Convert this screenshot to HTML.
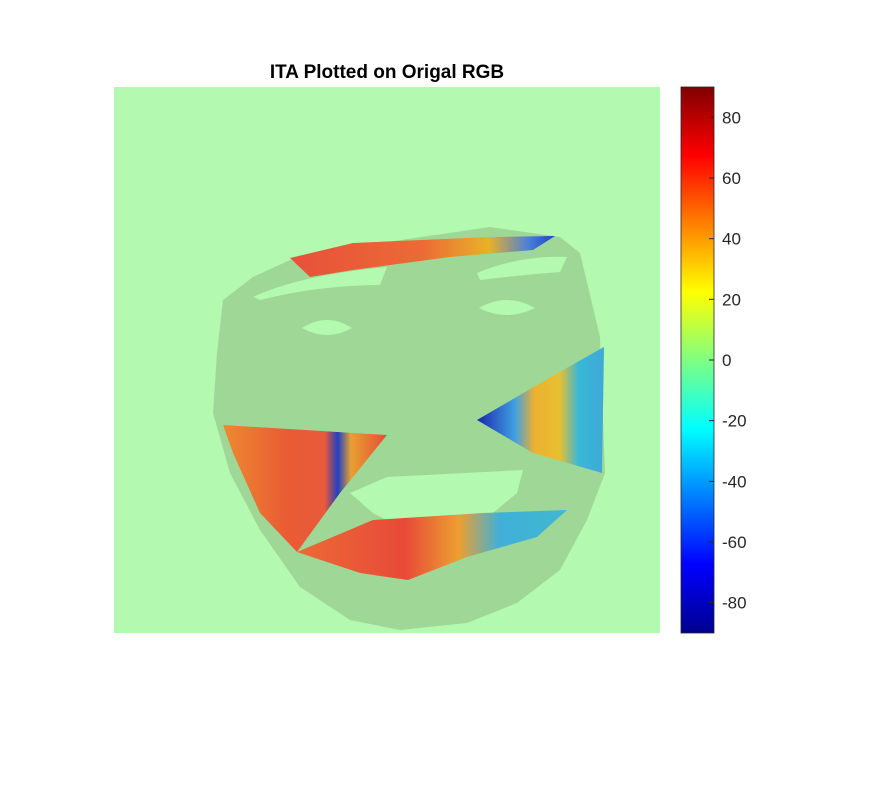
<!DOCTYPE html>
<html><head><meta charset="utf-8"><style>
body{margin:0;background:#fff;width:870px;height:781px;overflow:hidden;font-family:"Liberation Sans",sans-serif}
</style></head><body>
<svg width="870" height="781">
<defs>
<linearGradient id="jet" x1="0" y1="1" x2="0" y2="0">
<stop offset="0" stop-color="#00008f"/><stop offset="0.125" stop-color="#0000ff"/><stop offset="0.375" stop-color="#00ffff"/><stop offset="0.5" stop-color="#80ff80"/><stop offset="0.625" stop-color="#ffff00"/><stop offset="0.875" stop-color="#ff0000"/><stop offset="1" stop-color="#800000"/>
</linearGradient>
<linearGradient id="fh" x1="0" y1="0" x2="1" y2="0">
<stop offset="0" stop-color="#e8503a"/><stop offset="0.5" stop-color="#ec6a35"/><stop offset="0.75" stop-color="#e8b22a"/><stop offset="0.9" stop-color="#4a80d8"/><stop offset="1" stop-color="#2040c0"/>
</linearGradient>
<linearGradient id="lc" x1="0" y1="0" x2="1" y2="0">
<stop offset="0" stop-color="#ec8a30"/><stop offset="0.4" stop-color="#ea5a34"/><stop offset="0.62" stop-color="#e85a3a"/><stop offset="0.7" stop-color="#2040c0"/><stop offset="0.78" stop-color="#e8a030"/><stop offset="1" stop-color="#e84a38"/>
</linearGradient>
<linearGradient id="ch" x1="0" y1="0" x2="1" y2="0">
<stop offset="0" stop-color="#ec6a35"/><stop offset="0.4" stop-color="#e84a38"/><stop offset="0.6" stop-color="#eca030"/><stop offset="0.75" stop-color="#40b0d8"/><stop offset="1" stop-color="#40b8d0"/>
</linearGradient>
<linearGradient id="rc" x1="0" y1="0" x2="1" y2="0">
<stop offset="0" stop-color="#1828b0"/><stop offset="0.3" stop-color="#40a0e0"/><stop offset="0.45" stop-color="#ecb030"/><stop offset="0.65" stop-color="#e8c030"/><stop offset="0.8" stop-color="#38b8d8"/><stop offset="1" stop-color="#40a8d8"/>
</linearGradient>
</defs>
<text x="387" y="78" text-anchor="middle" font-size="19" font-weight="bold" fill="#000">ITA Plotted on Origal RGB</text>
<rect x="114" y="87" width="546" height="546" fill="#b3f9b0"/>
<path fill="#9fd896" fill-rule="evenodd" d="M223,300 L253,277 L290,260 L353,247 L490,227 L560,237 L580,253 L600,337 L605,473 L587,520 L560,570 L517,603 L467,623 L400,630 L350,620 L300,587 L260,530 L230,473 L213,413 L217,353 Z
M253,297 Q300,275 387,267 L380,285 Q320,285 260,300 Z
M477,273 Q520,255 567,257 L560,272 Q520,275 480,280 Z
M302,328 Q327,312 352,328 Q327,342 302,328 Z
M479,308 Q507,292 535,308 Q507,322 479,308 Z
M350,493 L387,477 L523,470 L517,493 L493,513 L450,533 L400,527 L373,513 Z"/>
<polygon fill="url(#fh)" points="290,258 353,243 490,237 555,236 533,250 450,257 353,270 310,277"/>
<polygon fill="url(#lc)" points="223,425 387,435 340,493 297,552 260,513 233,453"/>
<polygon fill="url(#ch)" points="297,552 373,520 483,513 567,510 537,537 467,557 408,580 360,573"/>
<polygon fill="url(#rc)" points="477,420 563,370 604,347 602,473 533,453"/>
<rect x="681" y="87" width="33" height="546" fill="url(#jet)" stroke="#262626" stroke-width="0.8"/>
<g id="cb-ticks" font-size="17" fill="#262626"></g>
</svg>
<script>
const tickValues=[80,60,40,20,0,-20,-40,-60,-80];
const cbMin=-90, cbMax=90;
const g=document.getElementById('cb-ticks');
function yOf(v){return 633-(v-cbMin)/(cbMax-cbMin)*546;}
tickValues.forEach(v=>{
  const y=yOf(v);
  const l=document.createElementNS('http://www.w3.org/2000/svg','line');
  l.setAttribute('x1',709);l.setAttribute('x2',714);l.setAttribute('y1',y);l.setAttribute('y2',y);l.setAttribute('stroke','#262626');
  
  
  g.appendChild(l);
  const t=document.createElementNS('http://www.w3.org/2000/svg','text');
  t.setAttribute('x',722);t.setAttribute('y',y+6);t.textContent=v;
  
  
  g.appendChild(t);
});
</script>
</body></html>
